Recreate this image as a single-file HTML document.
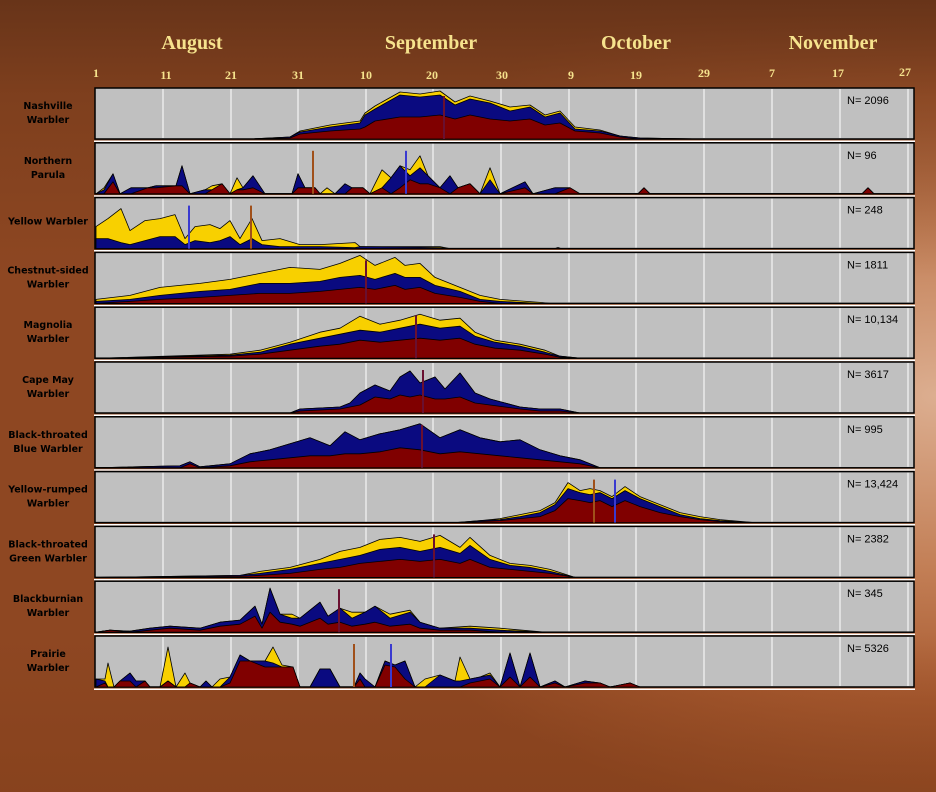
<!DOCTYPE html>
<html><head><meta charset="utf-8"><style>
html,body{margin:0;padding:0;}
body{width:936px;height:792px;overflow:hidden;background:radial-gradient(ellipse 70% 55% at 100% 50%,#dcae90 0%,#c27e55 40%,#a85a30 70%,#8e4722 100%);}
svg{position:absolute;left:0;top:0;}
</style></head><body>
<div style="position:absolute;left:0;top:0;width:936px;height:792px;background:linear-gradient(#683419 0%,rgba(110,55,25,0.5) 12%,rgba(120,60,25,0) 35%,rgba(120,60,25,0) 80%,rgba(130,62,25,0.5) 100%);"></div>
<svg id="s" width="936" height="792" xmlns="http://www.w3.org/2000/svg" font-family="Liberation Serif, serif">
<g font-weight="bold" fill="#f6e38d" font-size="20" text-anchor="middle">
<text x="192" y="49">August</text><text x="431" y="49">September</text><text x="636" y="49">October</text><text x="833" y="49">November</text>
</g>
<g font-weight="bold" fill="#f6e38d" font-size="12" text-anchor="middle">
<text x="96" y="77">1</text><text x="166" y="79">11</text><text x="231" y="79">21</text><text x="298" y="79">31</text><text x="366" y="79">10</text><text x="432" y="79">20</text><text x="502" y="79">30</text><text x="571" y="79">9</text><text x="636" y="79">19</text><text x="704" y="77">29</text><text x="772" y="77">7</text><text x="838" y="77">17</text><text x="905" y="76">27</text>
</g>
</svg>
<script>
var S=document.getElementById('s'),NS='http://www.w3.org/2000/svg';
function el(t,a,txt){var e=document.createElementNS(NS,t);for(var k in a)e.setAttribute(k,a[k]);if(txt)e.textContent=txt;S.appendChild(e);return e;}
var D=[
{n:["Nashville","Warbler"],N:"N= 2096",m:[[444,"#6a1030"]],p:[[250,0,0,0],[290,1,2,2],[300,5,7,8],[330,8,12,14],[360,10,16,18],[365,12,24,26],[375,18,30,33],[400,22,44,47],[420,22,42,45],[440,24,44,48],[455,20,34,37],[470,24,40,43],[490,20,36,38],[510,18,28,32],[530,20,32,34],[545,14,22,24],[560,16,26,28],[575,8,10,12],[600,6,8,9],[620,2,3,3],[640,0,1,1],[700,0,0,0]]},
{n:["Northern","Parula"],N:"N= 96",m:[[313,"#a0501a"],[406,"#3a3ad0"]],p:[[96,0,0,0],[104,0,4,6],[113,12,20,20],[120,0,0,0],[131,0,6,6],[148,6,6,6],[156,6,8,8],[176,8,8,8],[182,8,28,28],[190,0,0,0],[205,0,4,4],[212,4,4,8],[222,10,10,10],[230,0,0,0],[237,4,4,16],[243,4,6,6],[253,6,18,18],[265,0,0,0],[292,0,0,0],[298,6,20,20],[305,6,6,6],[315,6,6,6],[320,0,0,0],[327,0,0,6],[335,0,0,0],[345,0,10,10],[352,6,6,6],[363,6,6,6],[370,0,0,0],[382,6,6,24],[391,0,16,16],[400,6,28,28],[410,14,18,24],[420,10,26,38],[428,10,18,18],[440,6,6,6],[450,0,18,18],[458,6,6,6],[470,10,10,10],[480,0,0,0],[490,0,14,26],[500,0,0,0],[525,6,12,12],[533,0,0,0],[555,0,6,6],[570,6,6,6],[580,0,0,0],[638,0,0,0],[644,6,6,6],[650,0,0,0],[862,0,0,0],[868,6,6,6],[874,0,0,0]]},
{n:["Yellow Warbler"],N:"N= 248",m:[[189,"#3a3ad0"],[251,"#a0501a"]],p:[[96,0,10,22],[108,0,10,30],[121,0,6,40],[130,0,4,18],[145,0,8,28],[160,0,12,30],[175,0,12,34],[185,0,4,10],[195,0,8,22],[210,0,6,24],[220,0,8,20],[230,0,12,28],[240,0,4,10],[252,0,10,30],[262,0,4,8],[280,0,2,10],[300,0,2,4],[320,0,2,4],[355,0,1,6],[360,0,2,2],[440,0,1,2],[450,0,0,0],[555,0,0,0],[558,1,1,1],[561,0,0,0]]},
{n:["Chestnut-sided","Warbler"],N:"N= 1811",m:[[366,"#6a1030"]],p:[[96,0,2,4],[130,2,4,8],[160,4,8,16],[200,6,12,20],[230,8,14,24],[260,10,20,30],[290,10,20,36],[320,12,22,34],[340,14,26,40],[360,16,28,50],[375,14,24,38],[395,18,30,46],[405,14,26,38],[420,16,26,40],[435,10,18,26],[460,6,12,16],[480,2,4,8],[500,0,2,4],[540,0,0,1],[550,0,0,0]]},
{n:["Magnolia","Warbler"],N:"N= 10,134",m:[[416,"#6a1030"]],p:[[100,0,0,0],[230,2,3,4],[260,4,6,8],[290,8,14,16],[320,12,20,26],[340,14,24,30],[360,18,28,42],[380,16,26,34],[400,18,30,38],[420,20,34,44],[440,18,30,38],[460,20,32,40],[475,14,22,26],[495,10,16,18],[520,8,12,14],[545,4,6,8],[560,1,2,2],[580,0,0,0]]},
{n:["Cape May","Warbler"],N:"N= 3617",m:[[423,"#6a1030"]],p:[[290,0,0,0],[300,2,4,4],[340,4,6,6],[350,6,10,10],[360,8,20,20],[375,16,28,28],[390,14,22,22],[400,18,36,36],[410,16,42,42],[420,18,30,30],[435,14,36,36],[445,14,24,24],[460,16,40,40],[475,10,20,20],[490,8,14,14],[505,6,10,10],[520,4,6,6],[540,2,4,4],[560,2,4,4],[580,0,0,0]]},
{n:["Black-throated","Blue Warbler"],N:"N= 995",m:[[422,"#6a1030"]],p:[[96,0,0,0],[180,0,2,2],[190,4,6,6],[200,0,1,1],[230,2,4,4],[250,6,14,14],[270,8,18,18],[290,10,24,24],[310,12,30,30],[330,12,22,22],[345,14,36,36],[360,14,28,28],[380,16,34,34],[400,20,38,38],[420,18,44,44],[440,14,30,30],[460,16,38,38],[480,14,30,30],[500,12,26,26],[520,10,28,28],[540,8,18,18],[560,6,12,12],[580,4,8,8],[600,0,0,0]]},
{n:["Yellow-rumped","Warbler"],N:"N= 13,424",m:[[594,"#a0501a"],[615,"#3a3ad0"]],p:[[455,0,0,0],[480,1,2,2],[500,2,3,4],[520,4,6,8],[540,6,10,12],[555,12,18,20],[568,24,34,40],[580,22,30,32],[590,20,28,34],[600,22,30,32],[612,16,24,26],[625,22,32,36],[640,16,24,26],[660,10,16,18],[680,6,8,10],[700,3,4,6],[720,1,2,3],[755,0,0,0]]},
{n:["Black-throated","Green Warbler"],N:"N= 2382",m:[[434,"#6a1030"]],p:[[100,0,0,0],[240,1,2,2],[260,2,4,6],[290,4,8,10],[320,8,14,18],[340,10,18,26],[360,14,22,30],[380,16,28,38],[400,18,30,40],[420,16,26,36],[440,18,30,42],[460,14,24,30],[470,18,32,40],[490,10,18,22],[510,8,12,14],[530,6,10,12],[550,4,6,8],[575,0,0,0]]},
{n:["Blackburnian","Warbler"],N:"N= 345",m:[[339,"#6a1030"]],p:[[96,0,0,0],[110,2,2,2],[130,0,1,1],[150,2,4,4],[170,4,6,6],[200,2,4,4],[220,6,10,10],[240,8,12,12],[255,16,26,26],[262,4,8,8],[270,20,44,44],[280,10,18,18],[292,8,14,18],[300,6,14,14],[310,10,22,22],[320,14,30,30],[328,8,16,16],[340,10,24,24],[352,6,14,20],[365,8,20,20],[375,10,26,26],[390,6,14,18],[410,8,20,22],[420,4,10,10],[440,2,4,4],[470,2,4,6],[500,0,2,4],[545,0,0,0]]},
{n:["Prairie","Warbler"],N:"N= 5326",m:[[354,"#a0501a"],[391,"#3a3ad0"]],p:[[96,0,8,8],[105,4,6,8],[108,0,0,24],[114,0,0,0],[120,6,6,6],[130,6,14,14],[136,0,6,6],[145,6,6,6],[150,0,0,0],[160,0,0,0],[168,6,6,40],[176,0,0,0],[185,0,0,14],[190,4,4,4],[200,0,0,0],[206,0,6,6],[212,0,0,0],[220,0,0,8],[230,4,10,10],[240,26,32,32],[250,26,26,26],[265,20,26,26],[273,20,24,40],[282,20,20,22],[293,20,20,20],[300,0,0,0],[310,0,0,0],[320,0,18,18],[330,0,18,18],[340,0,0,0],[354,0,0,0],[360,8,14,14],[365,0,8,8],[375,0,0,0],[385,22,26,26],[395,20,22,22],[405,8,26,26],[415,0,0,0],[425,0,0,8],[440,0,12,12],[455,0,6,6],[460,0,6,30],[470,4,8,8],[480,6,10,10],[490,8,12,14],[500,0,0,0],[510,10,34,34],[520,0,0,0],[530,10,34,34],[540,0,0,0],[555,4,6,6],[565,0,0,0],[585,4,6,6],[600,4,4,4],[610,0,0,0],[630,4,4,4],[640,0,0,0]]}
];
var grid=[163,231,298,366,433,501,569,636,704,772,840,908];
D.forEach(function(d,i){
 var top=88+i*54.8,h=51,bot=top+h;
 el('rect',{x:95,y:top,width:819,height:h,fill:'#c0c0c0',stroke:'#000','stroke-width':1.5});
 el('line',{x1:94,y1:bot+2.2,x2:915,y2:bot+2.2,stroke:'#fff','stroke-width':1.5});
 grid.forEach(function(g){el('line',{x1:g,y1:top+1,x2:g,y2:bot-1,stroke:'#fff','stroke-width':1});});
 var p=d.p;
 [[3,'#f8d000'],[2,'#0a0a80'],[1,'#800000']].forEach(function(c){
   var s='M'+p[0][0]+','+bot;
   p.forEach(function(q){s+=' L'+q[0]+','+(bot-Math.min(q[c[0]],48));});
   s+=' L'+p[p.length-1][0]+','+bot+' Z';
   el('path',{d:s,fill:c[1],stroke:'#000','stroke-width':0.8,'stroke-linejoin':'round'});
 });
 d.m.forEach(function(m){el('line',{x1:m[0],y1:top+8,x2:m[0],y2:bot,stroke:m[1],'stroke-width':2});});
 el('text',{x:847,y:top+16,'font-family':'Liberation Sans, sans-serif','font-size':11,fill:'#000'},d.N);
 var ly=d.n.length==1?top+27:top+21;
 d.n.forEach(function(t,j){el('text',{x:48,y:ly+j*14,'text-anchor':'middle','font-family':'DejaVu Sans, sans-serif','font-weight':'bold','font-size':9.5,fill:'#000'},t);});
});
</script>
</body></html>
